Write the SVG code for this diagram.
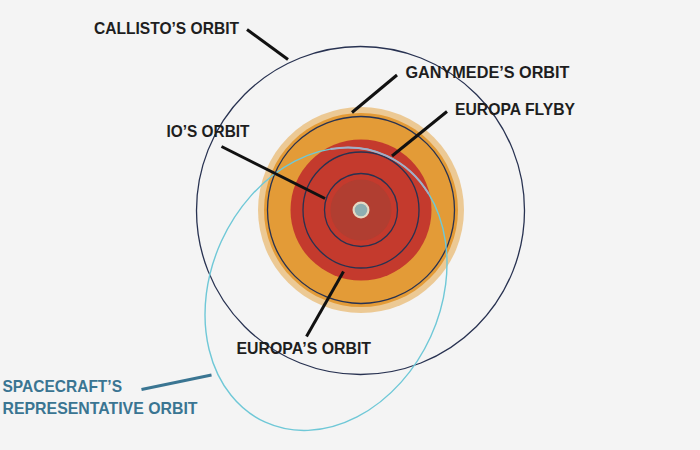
<svg xmlns="http://www.w3.org/2000/svg" width="700" height="450" viewBox="0 0 700 450">
  <defs>
    <style>
      .lbl { font-family: "Liberation Sans", Arial, sans-serif; font-weight: bold; font-size: 16.5px; fill: #1e1e1e; }
      .sc { fill: #3a7592; }
      .orbit { fill: none; stroke: #283251; stroke-width: 1.3; }
      .lead { stroke: #111111; stroke-width: 3; stroke-linecap: butt; }
      .lead-sc { stroke: #3a7592; stroke-width: 3; }
    </style>
  </defs>
  <rect x="0" y="0" width="700" height="450" fill="#f4f4f4"/>

  <g id="jupiter-system">
    <circle cx="361" cy="210" r="103" fill="#ecc994"/>
    <circle cx="361" cy="210" r="97" fill="#e39b37"/>
    <circle cx="361" cy="210" r="70.5" fill="#c43a2d"/>
    <circle cx="361" cy="210" r="30.5" fill="#b13e31"/>
    <circle cx="361" cy="210" r="8.5" fill="#e6d9c3"/>
    <circle cx="361" cy="210" r="6.3" fill="#8eaeb0"/>
  </g>

  <g id="callisto-orbit"><circle class="orbit" cx="360.5" cy="210.5" r="164"/></g>
  <g id="ganymede-orbit"><circle class="orbit" cx="361" cy="210" r="93.5"/></g>
  <g id="europa-orbit"><circle class="orbit" cx="361" cy="210" r="58"/></g>
  <g id="io-orbit"><circle class="orbit" cx="361" cy="210" r="36.5"/></g>

  <g id="spacecraft-orbit">
    <ellipse cx="326" cy="289" rx="146.4" ry="115" transform="rotate(-65.5 326 289)" fill="none" stroke="#6fc8d7" stroke-width="1.4"/>
  </g>
  <g id="europa-flyby">
    <path d="M330.5,149 A146.4,115 -65.5 0 1 428.7,193.8" fill="none" stroke="#a3aec6" stroke-width="2"/>
  </g>

  <g id="connectors">
    <line class="lead" x1="247" y1="29.5" x2="288" y2="59.5"/>
    <line class="lead" x1="397" y1="75" x2="352" y2="112.5"/>
    <line class="lead" x1="447" y1="111.5" x2="392" y2="156"/>
    <line class="lead" x1="221.5" y1="146.5" x2="325" y2="198.5"/>
    <line class="lead" x1="343.5" y1="271.5" x2="306.5" y2="336.5"/>
    <line class="lead-sc" x1="141.5" y1="389.5" x2="211.5" y2="375"/>
  </g>

  <g id="label-callisto"><text class="lbl" x="94" y="33.5" textLength="145" lengthAdjust="spacingAndGlyphs">CALLISTO’S ORBIT</text></g>
  <g id="label-ganymede"><text class="lbl" x="405.5" y="77.5" textLength="164" lengthAdjust="spacingAndGlyphs">GANYMEDE’S ORBIT</text></g>
  <g id="label-flyby"><text class="lbl" x="455" y="115" textLength="120" lengthAdjust="spacingAndGlyphs">EUROPA FLYBY</text></g>
  <g id="label-io"><text class="lbl" x="166.5" y="136.5" textLength="83" lengthAdjust="spacingAndGlyphs">IO’S ORBIT</text></g>
  <g id="label-europa"><text class="lbl" x="236.5" y="354" textLength="134.5" lengthAdjust="spacingAndGlyphs">EUROPA’S ORBIT</text></g>
  <g id="label-spacecraft">
    <text class="lbl sc" x="2.5" y="391.5" textLength="119.5" lengthAdjust="spacingAndGlyphs">SPACECRAFT’S</text>
    <text class="lbl sc" x="2.5" y="413.5" textLength="195" lengthAdjust="spacingAndGlyphs">REPRESENTATIVE ORBIT</text>
  </g>
</svg>
